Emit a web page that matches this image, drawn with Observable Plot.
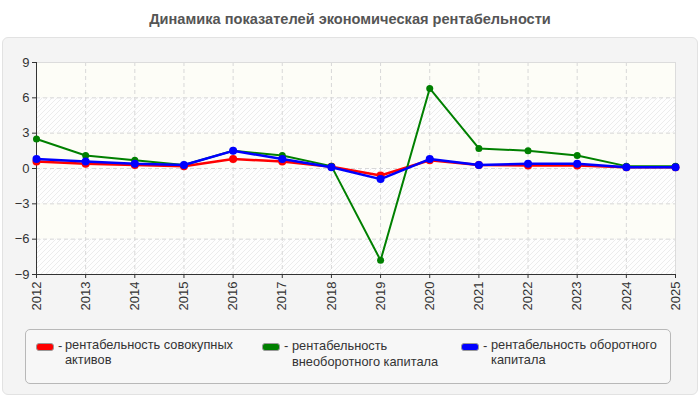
<!DOCTYPE html>
<html>
<head>
<meta charset="utf-8">
<script src="https://cdn.jsdelivr.net/npm/d3@7"></script>
<script src="https://cdn.jsdelivr.net/npm/@observablehq/plot@0.6"></script>
<style>
  body { margin: 0; background: #fff; font-family: "Liberation Sans", Arial, sans-serif; }
  #wrap { position: relative; width: 700px; height: 400px; overflow: hidden; }
  #title { position: absolute; top: 11px; left: 0; width: 700px; text-align: center; font-weight: bold; font-size: 14.6px; color: #555; }
  #panel { position: absolute; left: 2px; top: 37px; width: 694px; height: 356px; background: #f4f4f4; border: 1px solid #e2e2e2; border-radius: 6px; }
  #chart { position: absolute; left: 0; top: 40px; }
  #legend { position: absolute; left: 25px; top: 329px; width: 644px; height: 53px; background: #f7f7f7; border: 1px solid #b8b8b8; border-radius: 5px; }
  .sw { position: absolute; top: 13px; width: 16px; height: 6px; border: 1px solid #999; border-radius: 3px; }
  .dash { position: absolute; top: 8px; font-size: 13px; color: #333; }
  .txt { position: absolute; top: 8px; font-size: 12.8px; color: #333; line-height: 14.5px; white-space: nowrap; }
</style>
</head>
<body>
<svg width="0" height="0" style="position:absolute">
  <defs>
    <pattern id="hatch" patternUnits="userSpaceOnUse" width="5" height="5">
      <rect width="5" height="5" fill="#fefefe"></rect>
      <path d="M-1,1 l2,-2 M0,5 l5,-5 M4,6 l2,-2" stroke="#ececec" stroke-width="1"></path>
    </pattern>
  </defs>
</svg>
<div id="wrap">
  <div id="title">Динамика показателей экономическая рентабельности</div>
  <div id="panel"></div>
  <div id="chart"></div>
  <div id="legend"></div>
</div>
<script>
const years = [2012, 2013, 2014, 2015, 2016, 2017, 2018, 2019, 2020, 2021, 2022, 2023, 2024, 2025];
const assets = [0.6, 0.4, 0.3, 0.2, 0.8, 0.6, 0.15, -0.6, 0.7, 0.3, 0.25, 0.25, 0.1, 0.1];
const nonCurrent = [2.5, 1.1, 0.7, 0.3, 1.5, 1.1, 0.2, -7.8, 6.8, 1.7, 1.5, 1.1, 0.2, 0.2];
const current = [0.8, 0.6, 0.4, 0.3, 1.5, 0.8, 0.1, -0.9, 0.8, 0.3, 0.4, 0.4, 0.1, 0.1];
const yTicks = [-9, -6, -3, 0, 3, 6, 9];
const seriesNames = [
  "рентабельность совокупных активов",
  "рентабельность внеоборотного капитала",
  "рентабельность оборотного капитала"
];
const seriesColors = ["#ff0000", "#008000", "#0000ff"];

const rows = s => years.map((y, i) => ({year: y, value: s[i]}));
const bands = yTicks.slice(0, -1).map((t, i) => ({y1: t, y2: yTicks[i + 1], hatch: i % 2 === 0}));

const chart = Plot.plot({
  width: 700,
  height: 290,
  marginLeft: 36,
  marginRight: 25,
  marginTop: 22,
  marginBottom: 56,
  style: {background: "transparent", fontFamily: "'Liberation Sans', Arial, sans-serif", fontSize: "13px", color: "#333"},
  x: {domain: [2012, 2025], ticks: years, tickFormat: d => String(d), tickRotate: -90, label: null, tickSize: 4, tickPadding: 3},
  y: {domain: [-9, 9], ticks: yTicks, label: null, tickSize: 4, tickPadding: 3},
  marks: [
    Plot.rect(bands.filter(d => d.hatch), {x1: years[0], x2: years[years.length - 1], y1: "y1", y2: "y2", fill: "url(#hatch)"}),
    Plot.rect(bands.filter(d => !d.hatch), {x1: years[0], x2: years[years.length - 1], y1: "y1", y2: "y2", fill: "#fdfdf7"}),
    Plot.ruleX(years.slice(1, -1), {stroke: "#d8d8d8", strokeDasharray: "4,3"}),
    Plot.ruleY(yTicks.slice(1, -1), {stroke: "#d8d8d8", strokeDasharray: "4,3"}),
    Plot.ruleX([years[years.length - 1]], {stroke: "#dcdcdc"}),
    Plot.ruleY([yTicks[yTicks.length - 1]], {stroke: "#dcdcdc"}),
    Plot.ruleX([years[0]], {stroke: "#333"}),
    Plot.ruleY([yTicks[0]], {stroke: "#333"}),
    Plot.line(rows(assets), {x: "year", y: "value", stroke: seriesColors[0], strokeWidth: 2.5}),
    Plot.dot(rows(assets), {x: "year", y: "value", fill: seriesColors[0], r: 4}),
    Plot.line(rows(nonCurrent), {x: "year", y: "value", stroke: seriesColors[1], strokeWidth: 2}),
    Plot.dot(rows(nonCurrent), {x: "year", y: "value", fill: seriesColors[1], r: 3.5}),
    Plot.line(rows(current), {x: "year", y: "value", stroke: seriesColors[2], strokeWidth: 2.5}),
    Plot.dot(rows(current), {x: "year", y: "value", fill: seriesColors[2], r: 4})
  ]
});
document.getElementById("chart").appendChild(chart);

const legendLayout = [
  {sw: 10, dash: 32, txt: 39, lines: ["рентабельность совокупных", "активов"], lh: 14.5},
  {sw: 236, dash: 258, txt: 266, lines: ["рентабельность", "внеоборотного капитала"], lh: 16},
  {sw: 435, dash: 457, txt: 465, lines: ["рентабельность оборотного", "капитала"], lh: 14.5}
];
const legend = document.getElementById("legend");
legendLayout.forEach((l, i) => {
  const sw = document.createElement("div");
  sw.className = "sw"; sw.style.left = l.sw + "px"; sw.style.background = seriesColors[i];
  const dash = document.createElement("div");
  dash.className = "dash"; dash.style.left = l.dash + "px"; dash.textContent = "-";
  const txt = document.createElement("div");
  txt.className = "txt"; txt.style.left = l.txt + "px"; txt.style.lineHeight = l.lh + "px";
  txt.innerHTML = l.lines.join("<br>");
  txt.title = seriesNames[i];
  legend.appendChild(sw); legend.appendChild(dash); legend.appendChild(txt);
});
</script>
</body>
</html>
